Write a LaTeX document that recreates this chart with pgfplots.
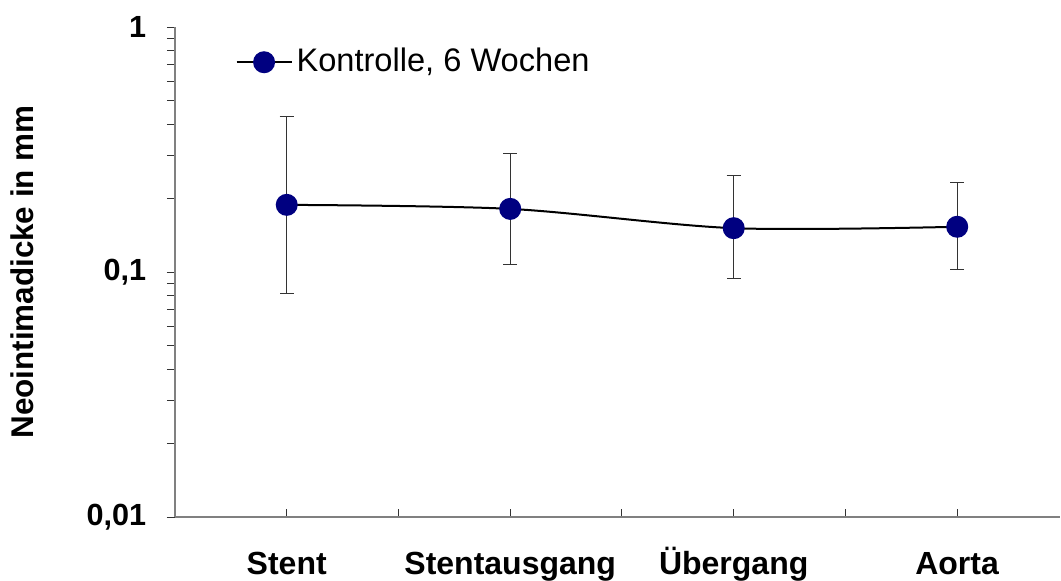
\documentclass[border=0pt]{standalone}
\usepackage{fontspec}
\setmainfont{Liberation Sans}
\usepackage{pgfplots}
\pgfplotsset{compat=1.18}
\definecolor{navyblue}{RGB}{0,0,128}
\definecolor{axisgray}{RGB}{128,128,128}
\begin{document}
\fontsize{15.7}{18}\selectfont
\begin{tikzpicture}
\begin{axis}[
  scale only axis,
  width=442.5pt, height=245pt,
  ymode=log,
  ymin=0.01, ymax=1,
  xmin=-0.5, xmax=3.46,
  axis x line*=bottom,
  axis y line*=left,
  axis line style={axisgray, line width=0.9pt},
  xtick={0,1,2,3},
  xticklabels={\textbf{Stent},\textbf{Stentausgang},\textbf{Übergang},\textbf{Aorta}},
  minor xtick={0.5,1.5,2.5},
  ytick={0.01,0.1,1},
  yticklabels={\textbf{0,01},\textbf{0,1},\textbf{1}},
  tick align=outside,
  major tick length=4pt,
  minor tick length=4pt,
  tick style={black!80, line width=0.5pt},
  x tick style={yshift=4pt},
  xticklabel style={anchor=base, yshift=-25pt, font=\fontsize{16}{18}\selectfont},
  yticklabel style={xshift=-5pt, font=\fontsize{15.3}{17}\selectfont},
  ylabel={\textbf{Neointimadicke in mm}},
  ylabel style={font=\fontsize{15.7}{18}\selectfont},
  ylabel shift=15.5pt,
  legend style={at={(0.068,0.966)}, anchor=north west, draw=none, fill=none,
    inner sep=0pt, font=\fontsize{16.3}{18}\selectfont},
  legend cell align=left,
  legend image code/.code={%
    \draw[#1, mark repeat=2, mark phase=2]
      plot coordinates {(0pt,0pt) (13.75pt,0pt) (27.5pt,0pt)};},
]
\addplot[black, line width=1pt, smooth, tension=0.5,
  mark=*, mark size=5pt, mark options={draw=navyblue, fill=navyblue},
  error bars/.cd, y dir=both, y explicit,
  error bar style={black!80, line width=0.5pt},
  error mark options={rotate=90, mark size=3.5pt, line width=0.5pt, black!80}]
  coordinates {
    (0,0.188) += (0,0.242) -= (0,0.106)
    (1,0.181) += (0,0.125) -= (0,0.074)
    (2,0.151) += (0,0.096) -= (0,0.0565)
    (3,0.153) += (0,0.080) -= (0,0.051)
  };
\addlegendentry{Kontrolle, 6 Wochen}
\coordinate (sw) at (rel axis cs:0,0);
\coordinate (ne) at (rel axis cs:1,1);
\end{axis}
\pgfresetboundingbox
\useasboundingbox ([xshift=-87.5pt,yshift=-31.5pt]sw) rectangle ([xshift=0.5pt,yshift=13.5pt]ne);
\end{tikzpicture}
\end{document}
